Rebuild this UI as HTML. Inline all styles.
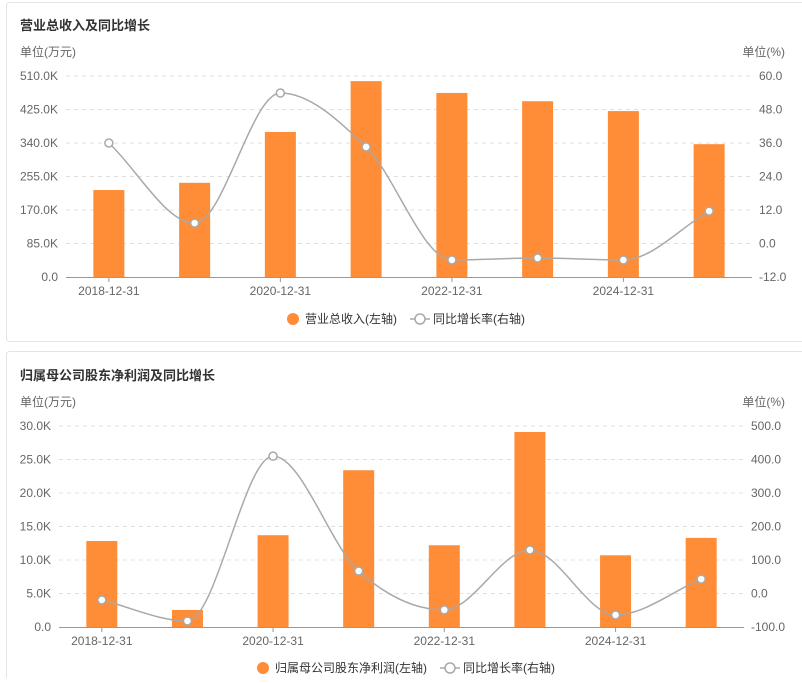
<!DOCTYPE html>
<html><head><meta charset="utf-8"><style>
body{margin:0;background:#fff;font-family:"Liberation Sans","Noto Sans CJK SC",sans-serif;}
svg text{font-family:"Liberation Sans","Noto Sans CJK SC",sans-serif;}
</style></head><body>
<svg id="s" width="802" height="678" xmlns="http://www.w3.org/2000/svg">
<rect x="6.5" y="2.5" width="800" height="339" rx="3" fill="#fff" stroke="#e4e4e4"/>
<rect x="6.5" y="351.5" width="800" height="340" rx="3" fill="#fff" stroke="#e4e4e4"/>
</svg>
<script>
const categories=["2018-12-31","2019-12-31","2020-12-31","2021-12-31","2022-12-31","2023-12-31","2024-12-31","2025-12-31"];
const revenueValues=[220.7,239,368,497,467,446,421,337];
const revenueGrowth=[36.0,7.3,53.9,34.6,-5.9,-5.2,-5.9,11.6];
const revenueTicks=["0.0","85.0K","170.0K","255.0K","340.0K","425.0K","510.0K"];
const revenueRateTicks=["-12.0","0.0","12.0","24.0","36.0","48.0","60.0"];
const profitValues=[12.84,2.54,13.7,23.4,12.2,29.1,10.7,13.3];
const profitGrowth=[-19.4,-82,410,67,-49,130,-64,43];
const profitTicks=["0.0","5.0K","10.0K","15.0K","20.0K","25.0K","30.0K"];
const profitRateTicks=["-100.0","0.0","100.0","200.0","300.0","400.0","500.0"];

const NS="http://www.w3.org/2000/svg";
const svg=document.getElementById('s');
function mk(tag,attrs,parent,txt){const e=document.createElementNS(NS,tag);for(const k in attrs)e.setAttribute(k,attrs[k]);if(txt!=null)e.textContent=txt;(parent||svg).appendChild(e);return e;}

function monotonePath(pts){
  const n=pts.length,dx=[],s=[],m=[];
  for(let i=0;i<n-1;i++){dx[i]=pts[i+1][0]-pts[i][0];s[i]=(pts[i+1][1]-pts[i][1])/dx[i];}
  m[0]=s[0];m[n-1]=s[n-2];
  for(let i=1;i<n-1;i++){m[i]=(s[i-1]*s[i]<=0)?0:(s[i-1]+s[i])/2;}
  for(let i=0;i<n-1;i++){
    if(s[i]===0){m[i]=0;m[i+1]=0;continue;}
    const a=m[i]/s[i],b=m[i+1]/s[i],h=a*a+b*b;
    if(h>9){const t=3/Math.sqrt(h);m[i]=t*a*s[i];m[i+1]=t*b*s[i];}
  }
  let d='M'+pts[0][0]+','+pts[0][1];
  for(let i=0;i<n-1;i++){
    const h=dx[i]/3;
    d+=' C'+(pts[i][0]+h)+','+(pts[i][1]+m[i]*h)+' '+(pts[i+1][0]-h)+','+(pts[i+1][1]-m[i+1]*h)+' '+pts[i+1][0]+','+pts[i+1][1];
  }
  return d;
}

function chart(o){
  const g=mk('g',{});
  
  
  const t=mk('text',{x:20,y:o.titleY,'font-size':13,'font-weight':'bold',fill:'#333'},g,o.title);
  
  
  const ul=mk('text',{x:20,y:o.top-20,'font-size':12,fill:'#666'},g,'单位(万元)');
  
  
  const ur=mk('text',{x:785,y:o.top-20,'font-size':12,fill:'#666','text-anchor':'end'},g,'单位(%)');
  
  
  const H=o.bottom-o.top, band=(o.right-o.left)/categories.length;
  const yL=v=>o.bottom-(v-o.lmin)/(o.lmax-o.lmin)*H;
  const yR=v=>o.bottom-(v-o.rmin)/(o.rmax-o.rmin)*H;
  const xC=i=>o.left+band*(i+0.5);
  for(let i=0;i<o.lt.length;i++){
    const y=o.bottom-i*H/(o.lt.length-1);
    if(i>0){const gl=mk('line',{x1:o.left,x2:o.right,y1:y,y2:y,stroke:'#e0e0e0','stroke-dasharray':'4,4'},g);
      
      }
    const a=mk('text',{x:o.left-8,y:y+4,'font-size':12,fill:'#666','text-anchor':'end'},g,o.lt[i]);
    
    
    const b=mk('text',{x:o.right+7,y:y+4,'font-size':12,fill:'#666'},g,o.rt[i]);
    
    
  }
  for(let i=0;i<categories.length;i++){
    const y=yL(o.vals[i]);
    const r=mk('rect',{x:xC(i)-15.5,y:y,width:31,height:o.bottom-y,fill:'#ff8c36'},g);
    
    
  }
  const ax=mk('line',{x1:o.left,x2:o.right,y1:o.bottom+0.5,y2:o.bottom+0.5,stroke:'#999'},g);
  
  
  for(let i=0;i<categories.length;i+=2){
    const tk=mk('line',{x1:xC(i),x2:xC(i),y1:o.bottom,y2:o.bottom+5,stroke:'#999'},g);
    
    
    const l=mk('text',{x:xC(i),y:o.bottom+18,'font-size':12,fill:'#666','text-anchor':'middle'},g,categories[i]);
    
    
  }
  const pts=o.rates.map((v,i)=>[xC(i),yR(v)]);
  const ln=mk('path',{d:monotonePath(pts),fill:'none',stroke:'#a9a9a9','stroke-width':1.5},g);
  
  
  pts.forEach((p,i)=>{
    const c=mk('circle',{cx:p[0],cy:p[1],r:4,fill:'#fff',stroke:'#a9a9a9','stroke-width':1.5},g);
    
    
  });
  const lg=mk('g',{},g);
  
  
  const lx=o.legendX, ly=o.legendY;
  const e1=mk('g',{},lg);
  
  
  mk('circle',{cx:lx,cy:ly,r:6,fill:'#ff8c36'},e1);
  mk('text',{x:lx+12,y:ly+4,'font-size':12,fill:'#333'},e1,o.legend1);
  const x2=lx+o.legend2Off;
  const e2=mk('g',{},lg);
  
  
  mk('line',{x1:x2-10,x2:x2+10,y1:ly,y2:ly,stroke:'#a9a9a9','stroke-width':1.5},e2);
  mk('circle',{cx:x2,cy:ly,r:5,fill:'#fff',stroke:'#a9a9a9','stroke-width':1.5},e2);
  mk('text',{x:x2+13,y:ly+4,'font-size':12,fill:'#333'},e2,'同比增长率(右轴)');
}
chart({name:'revenue-chart',title:'营业总收入及同比增长',titleY:30,left:66,right:752,top:76,bottom:277,lmin:0,lmax:510,rmin:-12,rmax:60,lt:revenueTicks,rt:revenueRateTicks,vals:revenueValues,rates:revenueGrowth,legendX:293,legendY:319,legend1:'营业总收入(左轴)',legend2Off:127});
chart({name:'profit-chart',title:'归属母公司股东净利润及同比增长',titleY:380,left:59,right:744,top:426,bottom:627,lmin:0,lmax:30,rmin:-100,rmax:500,lt:profitTicks,rt:profitRateTicks,vals:profitValues,rates:profitGrowth,legendX:263,legendY:668,legend1:'归属母公司股东净利润(左轴)',legend2Off:187});
</script>
</body></html>
